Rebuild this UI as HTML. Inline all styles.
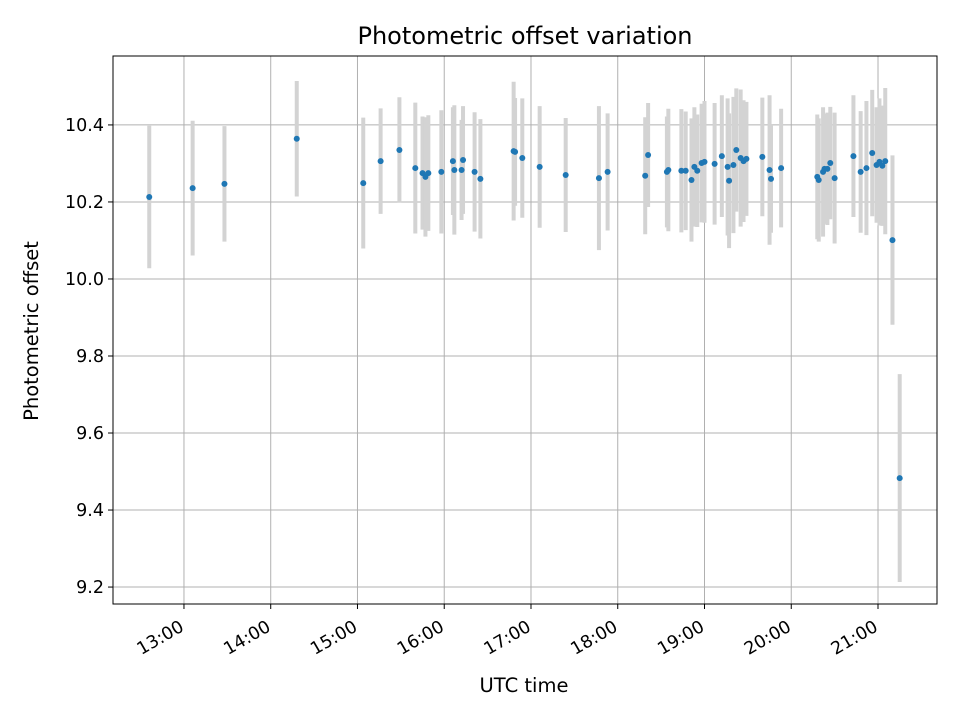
<!DOCTYPE html>
<html><head><meta charset="utf-8"><style>
body{margin:0;background:#fff}
svg text{font-family:"DejaVu Sans","Liberation Sans",sans-serif;fill:#000}
</style></head><body>
<svg id="chart" width="960" height="720" xmlns="http://www.w3.org/2000/svg">
<rect x="0" y="0" width="960" height="720" fill="#fff"/>
<g id="grid"></g>
<g id="bars"></g>
<g id="pts"></g>
<rect x="113" y="56" width="824" height="548" fill="none" stroke="#000" stroke-width="1"/>
<g id="ticks"></g>
<text x="525" y="44" font-size="24" text-anchor="middle">Photometric offset variation</text>
<text x="524" y="692" font-size="19.5" text-anchor="middle">UTC time</text>
<text transform="translate(38,331) rotate(-90)" font-size="19.5" text-anchor="middle">Photometric offset</text>
</svg>
<script>
const times=["12:36","13:06","13:28","14:18","15:04","15:16","15:29","15:40","15:45","15:47","15:49","15:58","16:06","16:07","16:12","16:13","16:21","16:25","16:48","16:49","16:54","17:06","17:24","17:47","17:53","18:19","18:21","18:34","18:35","18:44","18:47","18:51","18:53","18:55","18:58","19:00","19:07","19:12","19:16","19:17","19:20","19:22","19:25","19:27","19:29","19:40","19:45","19:46","19:53","20:18","20:19","20:22","20:23","20:25","20:27","20:30","20:43","20:48","20:52","20:56","20:59","21:01","21:03","21:05","21:10","21:15"];
const offsets=[10.213,10.236,10.247,10.364,10.249,10.306,10.335,10.288,10.275,10.265,10.275,10.278,10.306,10.283,10.283,10.309,10.278,10.26,10.332,10.33,10.314,10.291,10.27,10.262,10.278,10.268,10.322,10.278,10.283,10.281,10.281,10.257,10.291,10.281,10.301,10.304,10.299,10.319,10.291,10.255,10.296,10.335,10.314,10.306,10.312,10.317,10.283,10.26,10.288,10.265,10.257,10.278,10.286,10.286,10.301,10.262,10.319,10.278,10.288,10.327,10.296,10.304,10.294,10.306,10.101,9.483];
const errors=[0.185,0.175,0.15,0.15,0.17,0.137,0.137,0.17,0.147,0.155,0.15,0.16,0.14,0.168,0.13,0.14,0.155,0.155,0.18,0.14,0.155,0.158,0.148,0.187,0.152,0.152,0.135,0.144,0.159,0.16,0.154,0.16,0.155,0.146,0.154,0.158,0.158,0.158,0.178,0.175,0.177,0.16,0.178,0.158,0.148,0.154,0.194,0.14,0.154,0.162,0.16,0.168,0.143,0.146,0.146,0.17,0.158,0.158,0.174,0.164,0.15,0.165,0.156,0.19,0.22,0.27];
const xTickLabels=["13:00","14:00","15:00","16:00","17:00","18:00","19:00","20:00","21:00"];
const yTickLabels=["9.2","9.4","9.6","9.8","10.0","10.2","10.4"];
const NS="http://www.w3.org/2000/svg";
const X0=113,X1=937,Y0=604,Y1=56,xmin=12.182,xmax=21.68,ymin=9.156,ymax=10.579;
function hrs(t){const p=t.split(":");return +p[0]+ +p[1]/60;}
function xs(h){return X0+(h-xmin)/(xmax-xmin)*(X1-X0);}
function ys(v){return Y0-(v-ymin)/(ymax-ymin)*(Y0-Y1);}
function mk(tag,attrs,parent){const e=document.createElementNS(NS,tag);for(const k in attrs)e.setAttribute(k,attrs[k]);document.getElementById(parent).appendChild(e);return e;}
xTickLabels.forEach(l=>{const x=xs(hrs(l));
 const g=mk("line",{x1:x,x2:x,y1:Y1,y2:Y0,stroke:"#b0b0b0","stroke-width":1},"grid");
 
 const t=mk("line",{x1:x,x2:x,y1:Y0,y2:Y0+5,stroke:"#000"},"ticks");
 
 const tx=mk("text",{x:0,y:0,"font-size":"17.5","text-anchor":"end",transform:`translate(${x+1},${Y0+26}) rotate(-30)`},"ticks");
 tx.textContent=l;});
yTickLabels.forEach(l=>{const y=ys(+l);
 const g=mk("line",{x1:X0,x2:X1,y1:y,y2:y,stroke:"#b0b0b0","stroke-width":1},"grid");
 
 const t=mk("line",{x1:X0-5,x2:X0,y1:y,y2:y,stroke:"#000"},"ticks");
 
 const tx=mk("text",{x:X0-9,y:y+6,"font-size":"17.5","text-anchor":"end"},"ticks");
 tx.textContent=l;});
times.forEach((t,i)=>{const x=xs(hrs(t));
 const b=mk("line",{x1:x,x2:x,y1:ys(offsets[i]+errors[i]),y2:ys(offsets[i]-errors[i]),stroke:"#d3d3d3","stroke-width":4},"bars");
 
 const c=mk("circle",{cx:x,cy:ys(offsets[i]),r:3,fill:"#1f77b4"},"pts");
 });
</script>
</body></html>
